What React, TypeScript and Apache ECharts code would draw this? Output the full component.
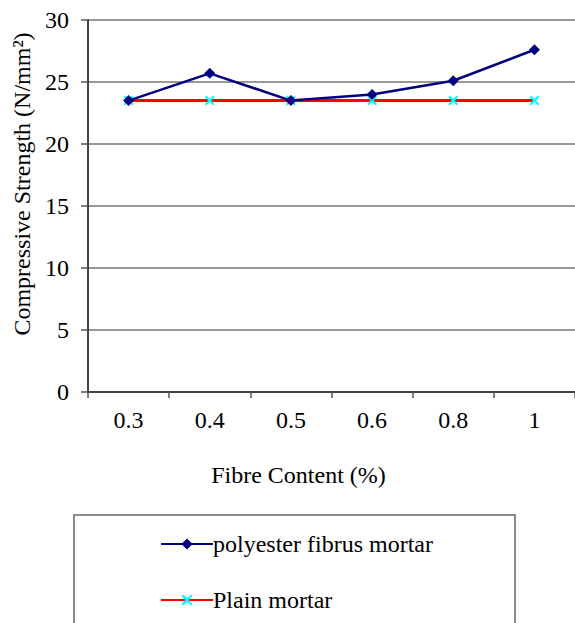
import React, { useEffect, useRef } from "react";
import * as echarts from "echarts";

const categories = ["0.3", "0.4", "0.5", "0.6", "0.8", "1"];
const polyesterValues = [23.5, 25.7, 23.5, 24.0, 25.1, 27.6];
const plainValues = [23.5, 23.5, 23.5, 23.5, 23.5, 23.5];
const seriesNames = ["polyester fibrus mortar", "Plain mortar"];

const FONT = "Times New Roman, Liberation Serif, DejaVu Serif, serif";
const CROSS = "path://M0,1.5 L1.5,0 L5,3.5 L8.5,0 L10,1.5 L6.5,5 L10,8.5 L8.5,10 L5,6.5 L1.5,10 L0,8.5 L3.5,5 Z";

export default function App() {
  const ref = useRef<HTMLDivElement>(null);
  useEffect(() => {
    if (!ref.current) return;
    const chart = echarts.init(ref.current, null, { renderer: "svg" });
    chart.setOption({
      animation: false,
      backgroundColor: "#ffffff",
      textStyle: { fontFamily: FONT, color: "#000" },
      grid: { left: 88, top: 20, width: 490, height: 372, containLabel: false },
      graphic: [
        {
          type: "rect",
          z: 0,
          shape: { x: 74, y: 515, width: 441, height: 140 },
          style: { fill: "#fff", stroke: "#666", lineWidth: 1.5 },
        },
      ],
      legend: {
        orient: "vertical",
        left: 155,
        top: 527,
        itemGap: 32,
        itemWidth: 52,
        itemHeight: 14,
        z: 5,
        textStyle: { fontFamily: FONT, fontSize: 24, color: "#000", padding: [0, 0, 0, -5] },
        data: seriesNames,
      },
      xAxis: {
        type: "category",
        data: categories,
        boundaryGap: true,
        name: "Fibre Content (%)",
        nameLocation: "middle",
        nameGap: 71,
        nameTextStyle: { fontFamily: FONT, fontSize: 24, color: "#000", padding: [0, 66, 0, 0] },
        axisLine: { show: true, lineStyle: { color: "#444", width: 2 } },
        axisTick: { show: true, alignWithLabel: false, length: 6, lineStyle: { color: "#555", width: 1.5 } },
        axisLabel: { fontFamily: FONT, fontSize: 24, color: "#000", margin: 16, interval: 0 },
        splitLine: { show: false },
      },
      yAxis: {
        type: "value",
        min: 0,
        max: 30,
        interval: 5,
        name: "Compressive Strength (N/mm²)",
        nameLocation: "middle",
        nameGap: 49,
        nameTextStyle: { fontFamily: FONT, fontSize: 24, color: "#000", padding: [0, 0, 0, 44] },
        axisLine: { show: true, lineStyle: { color: "#444", width: 2 } },
        axisTick: { show: true, inside: false, length: 7, lineStyle: { color: "#555", width: 1.5 } },
        axisLabel: { fontFamily: FONT, fontSize: 24, color: "#000", margin: 19 },
        splitLine: { show: true, lineStyle: { color: "#777", width: 1.5 } },
      },
      series: [
        {
          name: seriesNames[0],
          type: "line",
          data: polyesterValues,
          symbol: "diamond",
          symbolSize: 11,
          z: 4,
          lineStyle: { color: "#000080", width: 2.5 },
          itemStyle: { color: "#000080" },
        },
        {
          name: seriesNames[1],
          type: "line",
          data: plainValues,
          symbol: CROSS,
          symbolSize: 10,
          z: 3,
          lineStyle: { color: "#ff0000", width: 3 },
          itemStyle: { color: "#00ffff" },
        },
      ],
    });
    return () => chart.dispose();
  }, []);
  return (
    <div
      ref={ref}
      style={{ position: "fixed", left: 0, top: 0, width: 575, height: 623, background: "#fff" }}
    />
  );
}
